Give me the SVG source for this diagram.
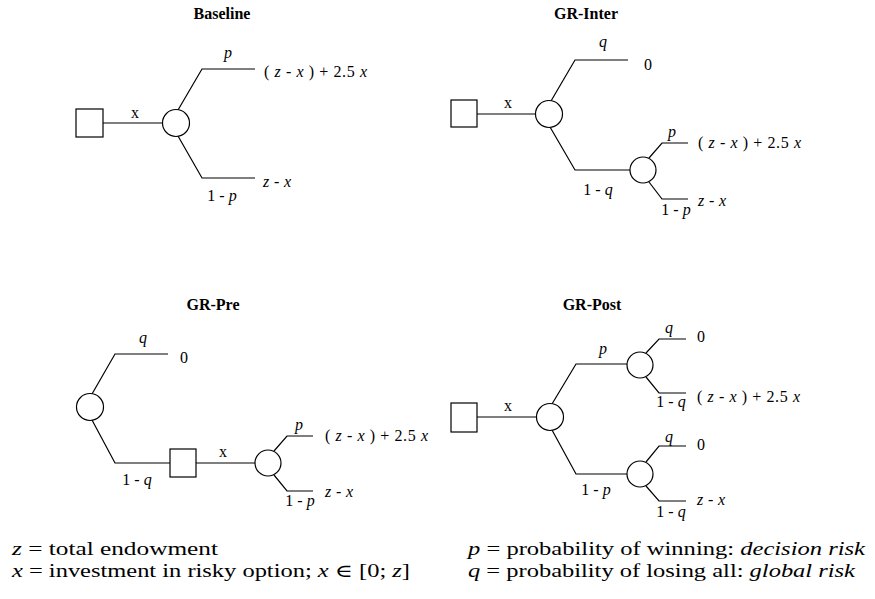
<svg xmlns="http://www.w3.org/2000/svg" width="875" height="599" viewBox="0 0 875 599" font-family="'Liberation Serif', 'DejaVu Serif', serif">
<style>
.bg{fill:#fff}
.e{fill:none;stroke:#000;stroke-width:1.2}
.n{fill:#fff;stroke:#000;stroke-width:1.2}
.t{font-family:'Liberation Serif','DejaVu Serif',serif;font-size:16px;fill:#000}
.i{font-style:italic}
.m{text-anchor:middle}
.h{font-family:'Liberation Serif','DejaVu Serif',serif;font-size:16px;font-weight:bold;text-anchor:middle;fill:#000}
.f{font-family:'Liberation Serif','DejaVu Serif',serif;font-size:18px;fill:#000}
</style>
<rect class="bg" x="0" y="0" width="875" height="599"/>

<g id="titles">
  <text class="h" x="222" y="19">Baseline</text>
  <text class="h" x="586" y="19">GR-Inter</text>
  <text class="h" x="213" y="310">GR-Pre</text>
  <text class="h" x="592" y="310">GR-Post</text>
</g>

<g id="connectors">
  <!-- Baseline -->
  <path class="e" d="M103,123 H163"/>
  <path class="e" d="M178,110 L202,69 H255"/>
  <path class="e" d="M178,136 L202,178 H255"/>
  <!-- GR-Inter -->
  <path class="e" d="M477,114 H536"/>
  <path class="e" d="M551,101 L575,60 H628"/>
  <path class="e" d="M550,127 L575,170 H630"/>
  <path class="e" d="M649,158 L662,143 H688"/>
  <path class="e" d="M649,182 L662,199 H688"/>
  <!-- GR-Pre -->
  <path class="e" d="M92,394 L115,354 H168"/>
  <path class="e" d="M92,420 L115,463 H170"/>
  <path class="e" d="M196,463 H255"/>
  <path class="e" d="M274,451 L287,436 H313"/>
  <path class="e" d="M274,475 L287,491 H313"/>
  <!-- GR-Post -->
  <path class="e" d="M477,417 H537"/>
  <path class="e" d="M552,404 L576,364 H627"/>
  <path class="e" d="M552,430 L576,474 H627"/>
  <path class="e" d="M646,353 L659,339 H686"/>
  <path class="e" d="M646,377 L659,393 H686"/>
  <path class="e" d="M646,462 L659,446 H686"/>
  <path class="e" d="M646,486 L659,501 H686"/>
</g>

<!-- Baseline nodes -->
<g id="base-decision"><rect class="n" x="76" y="109" width="27" height="28"/></g>
<g id="base-chance"><circle class="n" cx="176" cy="123" r="13.5"/></g>

<!-- GR-Inter nodes -->
<g id="inter-decision"><rect class="n" x="451" y="100" width="26" height="27"/></g>
<g id="inter-chance-q"><circle class="n" cx="549" cy="114" r="13.5"/></g>
<g id="inter-chance-p"><circle class="n" cx="643" cy="170" r="13"/></g>

<!-- GR-Pre nodes -->
<g id="pre-chance-q"><circle class="n" cx="90" cy="407" r="13.5"/></g>
<g id="pre-decision"><rect class="n" x="170" y="449" width="26" height="28"/></g>
<g id="pre-chance-p"><circle class="n" cx="268" cy="463" r="13"/></g>

<!-- GR-Post nodes -->
<g id="post-decision"><rect class="n" x="451" y="403" width="26" height="29"/></g>
<g id="post-chance-p"><circle class="n" cx="550" cy="417" r="13.5"/></g>
<g id="post-chance-q1"><circle class="n" cx="640" cy="365" r="13"/></g>
<g id="post-chance-q2"><circle class="n" cx="640" cy="474" r="13"/></g>

<!-- Baseline labels -->
<g id="base-labels">
  <text class="t m" x="135" y="118">x</text>
  <text class="t i m" x="228" y="58">p</text>
  <text class="t m" x="222" y="201">1 - <tspan class="i">p</tspan></text>
  <text class="t" x="264" y="77" textLength="103" lengthAdjust="spacing">( <tspan class="i">z</tspan> - <tspan class="i">x</tspan> ) + 2.5 <tspan class="i">x</tspan></text>
  <text class="t i" x="263" y="187" textLength="28" lengthAdjust="spacing">z - x</text>
</g>

<!-- GR-Inter labels -->
<g id="inter-labels">
  <text class="t m" x="508" y="108">x</text>
  <text class="t i m" x="603" y="47">q</text>
  <text class="t" x="644" y="70">0</text>
  <text class="t m" x="598" y="195">1 - <tspan class="i">q</tspan></text>
  <text class="t i m" x="672" y="137">p</text>
  <text class="t" x="698" y="148" textLength="103" lengthAdjust="spacing">( <tspan class="i">z</tspan> - <tspan class="i">x</tspan> ) + 2.5 <tspan class="i">x</tspan></text>
  <text class="t m" x="676" y="215">1 - <tspan class="i">p</tspan></text>
  <text class="t i" x="698" y="206" textLength="28" lengthAdjust="spacing">z - x</text>
</g>

<!-- GR-Pre labels -->
<g id="pre-labels">
  <text class="t i m" x="143" y="343">q</text>
  <text class="t" x="180" y="363">0</text>
  <text class="t m" x="137" y="485">1 - <tspan class="i">q</tspan></text>
  <text class="t m" x="223" y="457">x</text>
  <text class="t i m" x="299" y="430">p</text>
  <text class="t" x="325" y="441" textLength="103" lengthAdjust="spacing">( <tspan class="i">z</tspan> - <tspan class="i">x</tspan> ) + 2.5 <tspan class="i">x</tspan></text>
  <text class="t m" x="300" y="506">1 - <tspan class="i">p</tspan></text>
  <text class="t i" x="325" y="497" textLength="28" lengthAdjust="spacing">z - x</text>
</g>

<!-- GR-Post labels -->
<g id="post-labels">
  <text class="t m" x="508" y="411">x</text>
  <text class="t i m" x="603" y="354">p</text>
  <text class="t m" x="596" y="495">1 - <tspan class="i">p</tspan></text>
  <text class="t i m" x="669" y="333">q</text>
  <text class="t" x="697" y="342">0</text>
  <text class="t m" x="671" y="407">1 - <tspan class="i">q</tspan></text>
  <text class="t" x="697" y="402" textLength="103" lengthAdjust="spacing">( <tspan class="i">z</tspan> - <tspan class="i">x</tspan> ) + 2.5 <tspan class="i">x</tspan></text>
  <text class="t i m" x="669" y="442">q</text>
  <text class="t" x="697" y="450">0</text>
  <text class="t m" x="671" y="517">1 - <tspan class="i">q</tspan></text>
  <text class="t i" x="697" y="505" textLength="28" lengthAdjust="spacing">z - x</text>
</g>

<!-- legend -->
<g id="legend">
  <text class="f" x="12" y="555" textLength="206" lengthAdjust="spacingAndGlyphs"><tspan class="i">z</tspan> = total endowment</text>
  <text class="f" x="12" y="577" textLength="398" lengthAdjust="spacingAndGlyphs"><tspan class="i">x</tspan> = investment in risky option; <tspan class="i">x</tspan> ∈ [0; <tspan class="i">z</tspan>]</text>
  <text class="f" x="468" y="555" textLength="397" lengthAdjust="spacingAndGlyphs"><tspan class="i">p</tspan> = probability of winning: <tspan class="i">decision risk</tspan></text>
  <text class="f" x="468" y="577" textLength="387" lengthAdjust="spacingAndGlyphs"><tspan class="i">q</tspan> = probability of losing all: <tspan class="i">global risk</tspan></text>
</g>
</svg>
